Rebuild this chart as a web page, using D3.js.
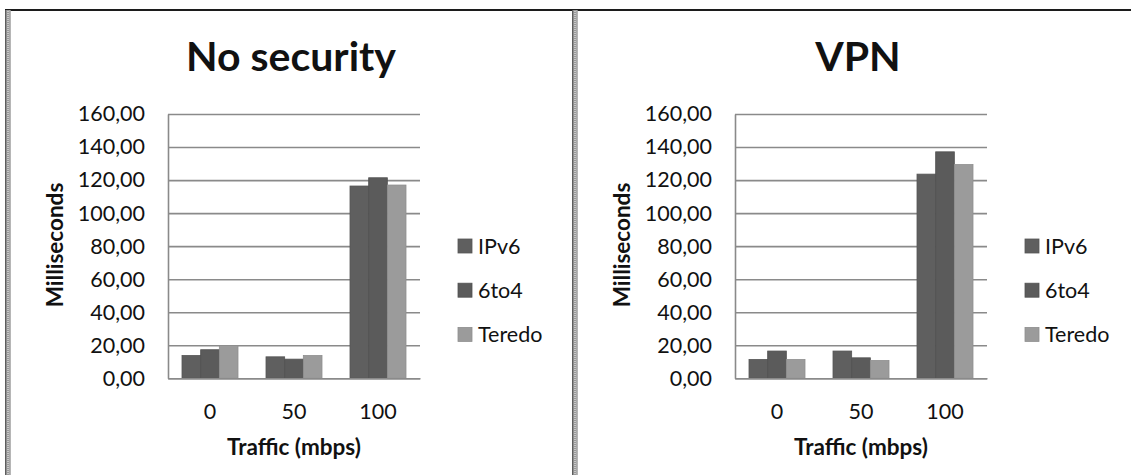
<!DOCTYPE html>
<html>
<head>
<meta charset="utf-8">
<script src="https://cdn.jsdelivr.net/npm/d3@7"></script>
<style>
  html, body { margin: 0; padding: 0; background: #fff; }
  svg { display: block; }
  text { font-family: Lato, "Open Sans", sans-serif; fill: #111; }
</style>
</head>
<body>
<svg id="chart" width="1131" height="475"></svg>
<script>
// Response time by traffic load, per transition mechanism
const categories = ["0", "50", "100"];
const seriesNames = ["IPv6", "6to4", "Teredo"];
const yTicks = [0, 20, 40, 60, 80, 100, 120, 140, 160];

const noSecurityIPv6   = [13.8, 13.0, 116.4];
const noSecurity6to4   = [17.3, 11.6, 121.4];
const noSecurityTeredo = [19.8, 13.8, 117.0];

const vpnIPv6   = [11.4, 16.5, 123.6];
const vpn6to4   = [16.5, 12.4, 137.1];
const vpnTeredo = [11.4, 10.8, 129.4];

const panels = [
  { title: "No security", series: [noSecurityIPv6, noSecurity6to4, noSecurityTeredo], dx: 0 },
  { title: "VPN",         series: [vpnIPv6, vpn6to4, vpnTeredo],                      dx: 567 }
];

const fills   = { "IPv6": "#5f5f5f", "6to4": "#5b5b5b", "Teredo": "#9b9b9b" };
const strokes = { "IPv6": "#555555", "6to4": "#525252", "Teredo": "#8e8e8e" };

const svg = d3.select("#chart");
const commaFmt = d3.formatLocale({ decimal: ",", thousands: ".", grouping: [3], currency: ["", ""] }).format(".2f");

// plot area geometry (per panel, before offset)
const plot = { left: 168, right: 420, top: 114, bottom: 378.3 };
const gridColor = "#8a8a8a";

panels.forEach(p => {
  const g = svg.append("g").attr("transform", `translate(${p.dx},0)`);

  const x = d3.scaleBand().domain(categories).range([plot.left, plot.right]);
  const xs = d3.scaleBand().domain(seriesNames).range([0, x.bandwidth()]).paddingOuter(0.75);
  const y = d3.scaleLinear().domain([0, 160]).range([plot.bottom, plot.top]);

  // horizontal gridlines
  const grid = g.append("g")
    .attr("transform", `translate(${plot.left},0)`)
    .call(d3.axisLeft(y).tickValues(yTicks).tickSize(-(plot.right - plot.left)).tickFormat(""));
  grid.select(".domain").remove();
  grid.selectAll("line").attr("stroke", gridColor).attr("stroke-width", 1.6);

  // bars
  const rows = categories.map((c, i) => ({ cat: c, vals: seriesNames.map((s, j) => ({ s, v: p.series[j][i] })) }));
  g.append("g").selectAll("g").data(rows).join("g")
    .attr("transform", d => `translate(${x(d.cat)},0)`)
    .selectAll("rect").data(d => d.vals).join("rect")
      .attr("x", d => xs(d.s))
      .attr("width", xs.bandwidth())
      .attr("y", d => y(d.v))
      .attr("height", d => y(0) - y(d.v))
      .attr("fill", d => fills[d.s])
      .attr("stroke", d => strokes[d.s])
      .attr("stroke-width", 0.8);

  // y axis
  const ya = g.append("g")
    .attr("transform", `translate(${plot.left},0)`)
    .call(d3.axisLeft(y).tickValues(yTicks).tickSize(0).tickPadding(23).tickFormat(commaFmt));
  ya.select(".domain").attr("stroke", gridColor).attr("stroke-width", 1.6);
  ya.selectAll("text").attr("font-size", 21.5).attr("font-family", "Lato").attr("fill", "#111");

  // x axis
  const xa = g.append("g")
    .attr("transform", `translate(0,${plot.bottom})`)
    .call(d3.axisBottom(x).tickSize(0).tickPadding(25));
  xa.select(".domain").attr("stroke", gridColor).attr("stroke-width", 1.6);
  xa.selectAll("text").attr("font-size", 21.5).attr("font-family", "Lato").attr("fill", "#111");

  // chart title
  g.append("text")
    .attr("x", 291).attr("y", 71)
    .attr("text-anchor", "middle")
    .attr("font-size", 41).attr("font-weight", 700)
    .text(p.title);

  // axis titles
  g.append("text")
    .attr("x", (plot.left + plot.right) / 2).attr("y", 455)
    .attr("text-anchor", "middle")
    .attr("font-size", 22.5).attr("font-weight", 700)
    .text("Traffic (mbps)");
  g.append("text")
    .attr("transform", `translate(63,245) rotate(-90)`)
    .attr("text-anchor", "middle")
    .attr("font-size", 22.5).attr("font-weight", 700)
    .text("Milliseconds");

  // legend
  const lg = g.append("g").selectAll("g").data(seriesNames).join("g")
    .attr("transform", (d, i) => `translate(458,${239 + i * 44.2})`);
  lg.append("rect").attr("width", 14).attr("height", 14)
    .attr("fill", d => fills[d]).attr("stroke", d => strokes[d]).attr("stroke-width", 0.8);
  lg.append("text").attr("x", 20).attr("y", 14.5)
    .attr("font-size", 21.5)
    .text(d => d);
});

// table frame: top rule and patterned vertical borders
svg.append("line").attr("x1", 5).attr("x2", 1131).attr("y1", 10).attr("y2", 10)
  .attr("stroke", "#1c1c1c").attr("stroke-width", 2);
[5, 572].forEach(bx => {
  const b = svg.append("g");
  b.append("rect").attr("x", bx).attr("y", 10).attr("width", 5.5).attr("height", 465).attr("fill", "#c8c8c8");
  b.append("line").attr("x1", bx + 0.8).attr("x2", bx + 0.8).attr("y1", 10).attr("y2", 475)
    .attr("stroke", "#4a4a4a").attr("stroke-width", 1.3);
  b.append("line").attr("x1", bx + 3).attr("x2", bx + 3).attr("y1", 10).attr("y2", 475)
    .attr("stroke", "#6a6a6a").attr("stroke-width", 1).attr("stroke-dasharray", "1,1");
  b.append("line").attr("x1", bx + 5).attr("x2", bx + 5).attr("y1", 10).attr("y2", 475)
    .attr("stroke", "#8a8a8a").attr("stroke-width", 1);
});
</script>
</body>
</html>
